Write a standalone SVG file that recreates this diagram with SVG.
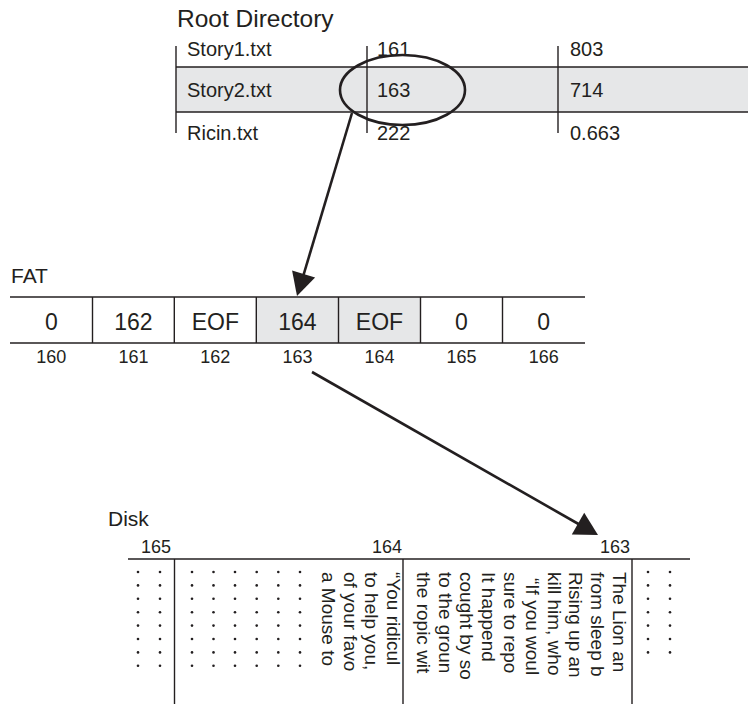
<svg xmlns="http://www.w3.org/2000/svg" xmlns:xlink="http://www.w3.org/1999/xlink" width="748" height="704" viewBox="0 0 748 704">
<style>
text{font-family:"Liberation Sans",Arial,sans-serif;fill:#231f20}
.title{font-size:24.5px}
.label{font-size:21px}
.cell{font-size:20px}
.val{font-size:23px;text-anchor:middle}
.idx{font-size:18px;text-anchor:middle}
.blk{font-size:18px;text-anchor:end}
.vt{font-size:19px}
.ln{stroke:#231f20;stroke-width:1.4;fill:none}
.band{fill:#e6e7e8}
.arrow{stroke:#231f20;stroke-width:2.6;fill:none}
.head{fill:#231f20}
.dot{fill:#231f20}
</style>
<defs>
<g id="dots8">
<circle class="dot" cx="0" cy="572" r="1.3"/><circle class="dot" cx="0" cy="585.4" r="1.3"/><circle class="dot" cx="0" cy="598.8" r="1.3"/><circle class="dot" cx="0" cy="612.2" r="1.3"/><circle class="dot" cx="0" cy="625.6" r="1.3"/><circle class="dot" cx="0" cy="639" r="1.3"/><circle class="dot" cx="0" cy="652.4" r="1.3"/><circle class="dot" cx="0" cy="665.8" r="1.3"/>
</g>
<g id="dots7">
<circle class="dot" cx="0" cy="572" r="1.3"/><circle class="dot" cx="0" cy="585.4" r="1.3"/><circle class="dot" cx="0" cy="598.8" r="1.3"/><circle class="dot" cx="0" cy="612.2" r="1.3"/><circle class="dot" cx="0" cy="625.6" r="1.3"/><circle class="dot" cx="0" cy="639" r="1.3"/><circle class="dot" cx="0" cy="652.4" r="1.3"/>
</g>
</defs>

<g id="root-directory">
<text class="title" x="177" y="27">Root Directory</text>
<rect class="band" x="176" y="67" width="572" height="45"/>
<line class="ln" x1="176" y1="67" x2="748" y2="67"/>
<line class="ln" x1="176" y1="112" x2="748" y2="112"/>
<line class="ln" x1="176" y1="46" x2="176" y2="133"/>
<line class="ln" x1="367" y1="46" x2="367" y2="133"/>
<line class="ln" x1="558" y1="46" x2="558" y2="133"/>
<g id="row-story1">
<text class="cell" x="187" y="56">Story1.txt</text>
<text class="cell" x="377" y="56">161</text>
<text class="cell" x="570" y="56">803</text>
</g>
<g id="row-story2">
<text class="cell" x="187" y="97">Story2.txt</text>
<text class="cell" x="377" y="97">163</text>
<text class="cell" x="570" y="97">714</text>
</g>
<g id="row-ricin">
<text class="cell" x="187" y="140">Ricin.txt</text>
<text class="cell" x="377" y="140">222</text>
<text class="cell" x="570" y="140">0.663</text>
</g>
</g>

<g id="highlight">
<ellipse cx="402.5" cy="90" rx="62.5" ry="35" fill="none" stroke="#231f20" stroke-width="2.6"/>
</g>

<g id="fat">
<text class="label" x="11" y="283">FAT</text>
<rect class="band" x="256.3" y="297" width="164.2" height="46"/>
<line class="ln" x1="10" y1="297" x2="585" y2="297"/>
<line class="ln" x1="10" y1="343" x2="585" y2="343"/>
<line class="ln" x1="92.5" y1="297" x2="92.5" y2="343"/>
<line class="ln" x1="174.3" y1="297" x2="174.3" y2="343"/>
<line class="ln" x1="256.3" y1="297" x2="256.3" y2="343"/>
<line class="ln" x1="338.5" y1="297" x2="338.5" y2="343"/>
<line class="ln" x1="420.5" y1="297" x2="420.5" y2="343"/>
<line class="ln" x1="502.5" y1="297" x2="502.5" y2="343"/>
<g id="fat-160"><text class="val" x="51.3" y="330">0</text><text class="idx" x="51.3" y="363">160</text></g>
<g id="fat-161"><text class="val" x="133.4" y="330">162</text><text class="idx" x="133.4" y="363">161</text></g>
<g id="fat-162"><text class="val" x="215.3" y="330">EOF</text><text class="idx" x="215.3" y="363">162</text></g>
<g id="fat-163"><text class="val" x="297.4" y="330">164</text><text class="idx" x="297.4" y="363">163</text></g>
<g id="fat-164"><text class="val" x="379.5" y="330">EOF</text><text class="idx" x="379.5" y="363">164</text></g>
<g id="fat-165"><text class="val" x="461.5" y="330">0</text><text class="idx" x="461.5" y="363">165</text></g>
<g id="fat-166"><text class="val" x="543.7" y="330">0</text><text class="idx" x="543.7" y="363">166</text></g>
</g>

<g id="disk">
<text class="label" x="108" y="526">Disk</text>
<line class="ln" x1="128" y1="559" x2="690" y2="559"/>
<line class="ln" x1="174.5" y1="559" x2="174.5" y2="704"/>
<line class="ln" x1="403" y1="559" x2="403" y2="704"/>
<line class="ln" x1="632" y1="559" x2="632" y2="704"/>
<g id="disk-165">
<text class="blk" x="171" y="553">165</text>
<use xlink:href="#dots8" x="138"/><use xlink:href="#dots8" x="160"/>
</g>
<g id="disk-164">
<text class="blk" x="402" y="553">164</text>
<use xlink:href="#dots8" x="192"/><use xlink:href="#dots8" x="213.5"/><use xlink:href="#dots8" x="235"/><use xlink:href="#dots8" x="256.7"/><use xlink:href="#dots8" x="278.3"/><use xlink:href="#dots8" x="300"/>
<text class="vt" transform="translate(387,572) rotate(90)">“You ridicul</text>
<text class="vt" transform="translate(365.3,572) rotate(90)">to help you,</text>
<text class="vt" transform="translate(343.6,572) rotate(90)">of your favo</text>
<text class="vt" transform="translate(321.9,572) rotate(90)">a Mouse to</text>
</g>
<g id="disk-163">
<text class="blk" x="630" y="553">163</text>
<text class="vt" transform="translate(613,572) rotate(90)">The Lion an</text>
<text class="vt" transform="translate(591.2,572) rotate(90)">from sleep b</text>
<text class="vt" transform="translate(569.4,572) rotate(90)">Rising up an</text>
<text class="vt" transform="translate(547.6,572) rotate(90)">kill him, who</text>
<text class="vt" transform="translate(525.8,578) rotate(90)">“If you woul</text>
<text class="vt" transform="translate(504,572) rotate(90)">sure to repo</text>
<text class="vt" transform="translate(482.2,572) rotate(90)">It happend</text>
<text class="vt" transform="translate(460.4,572) rotate(90)">cought by so</text>
<text class="vt" transform="translate(438.6,572) rotate(90)">to the groun</text>
<text class="vt" transform="translate(416.8,572) rotate(90)">the ropic wit</text>
</g>
<g id="disk-162">
<use xlink:href="#dots7" x="648"/><use xlink:href="#dots7" x="670"/>
</g>
</g>

<g id="connectors">
<line class="arrow" x1="352" y1="113" x2="302" y2="280"/>
<polygon class="head" points="297,296 315.1,277.4 292.1,270.5"/>
<line class="arrow" x1="312" y1="372" x2="582" y2="526"/>
<polygon class="head" points="598,535 571.8,534.5 584.2,512.7"/>
</g>
</svg>
